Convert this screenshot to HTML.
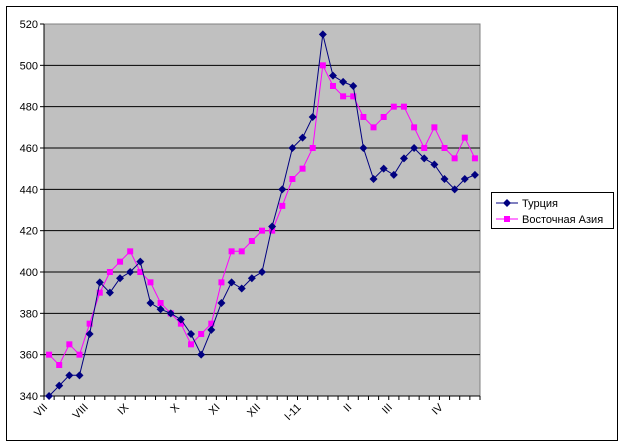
<!DOCTYPE html>
<html><head><meta charset="utf-8"><style>
body{margin:0;background:#fff;}
svg{display:block;font-family:"Liberation Sans",Arial,sans-serif;}
</style></head><body>
<svg id="s" width="624" height="448" xmlns="http://www.w3.org/2000/svg">
<rect x="6.5" y="6.5" width="611" height="434" fill="#fff" stroke="#000" stroke-width="1"/>
<rect x="44" y="24" width="436" height="372" fill="#c0c0c0" stroke="#808080" stroke-width="1"/>
<g id="g"></g>
<rect x="491.5" y="192.5" width="122" height="36" fill="#fff" stroke="#000"/>
<line x1="496" y1="203" x2="518" y2="203" stroke="#000080" stroke-width="1"/>
<path d="M507 199 L511 203 L507 207 L503 203Z" fill="#000080"/>
<text x="522" y="207" font-size="11">Турция</text>
<line x1="496" y1="219" x2="518" y2="219" stroke="#ff00ff" stroke-width="1"/>
<rect x="504" y="216" width="6" height="6" fill="#ff00ff"/>
<text x="522" y="223" font-size="11">Восточная Азия</text>
</svg>
<script>
var g=document.getElementById('g'),h='';
var L=44,T=24,W=436,H=372,n=43,cw=W/n;
function Y(v){return T+(520-v)/180*H;}
for(var v=340;v<=520;v+=20){var y=Y(v);if(v>340&&v<520)h+='<line x1="44" x2="480" y1="'+y+'" y2="'+y+'" stroke="#000"/>';
h+='<line x1="40" x2="44" y1="'+y+'" y2="'+y+'" stroke="#000"/><text x="38" y="'+(y+4)+'" font-size="11" text-anchor="end">'+v+'</text>';}
h+='<line x1="44" x2="44" y1="24" y2="396" stroke="#000"/><line x1="44" x2="480" y1="396" y2="396" stroke="#000"/>';
for(var i=0;i<=n;i++){var x=L+i*cw;h+='<line x1="'+x+'" x2="'+x+'" y1="396" y2="400" stroke="#000"/>';}
var labs=[[0,'VII'],[4,'VIII'],[8,'IX'],[13,'X'],[17,'XI'],[21,'XII'],[25,'I-11'],[30,'II'],[34,'III'],[39,'IV']];
labs.forEach(function(a){var x=L+(a[0]+0.5)*cw-1,y=408;h+='<text font-size="11" text-anchor="end" transform="translate('+x+','+y+') rotate(-45)">'+a[1]+'</text>';});
var t=[340,345,350,350,370,395,390,397,400,405,385,382,380,377,370,360,372,385,395,392,397,400,422,440,460,465,475,515,495,492,490,460,445,450,447,455,460,455,452,445,440,445,447];
var e=[360,355,365,360,375,390,400,405,410,400,395,385,380,375,365,370,375,395,410,410,415,420,420,432,445,450,460,500,490,485,485,475,470,475,480,480,470,460,470,460,455,465,455];
function pts(a){return a.map(function(v,i){return (L+(i+0.5)*cw).toFixed(1)+','+Y(v).toFixed(1);}).join(' ');}
h+='<polyline points="'+pts(e)+'" fill="none" stroke="#ff00ff" stroke-width="1"/>';
e.forEach(function(v,i){var x=L+(i+0.5)*cw,y=Y(v);h+='<rect x="'+(x-3)+'" y="'+(y-3)+'" width="6" height="6" fill="#ff00ff"/>';});
h+='<polyline points="'+pts(t)+'" fill="none" stroke="#000080" stroke-width="1"/>';
t.forEach(function(v,i){var x=L+(i+0.5)*cw,y=Y(v);h+='<path d="M'+x+' '+(y-4)+' L'+(x+4)+' '+y+' L'+x+' '+(y+4)+' L'+(x-4)+' '+y+'Z" fill="#000080"/>';});
g.innerHTML=h;
</script>
</body></html>
